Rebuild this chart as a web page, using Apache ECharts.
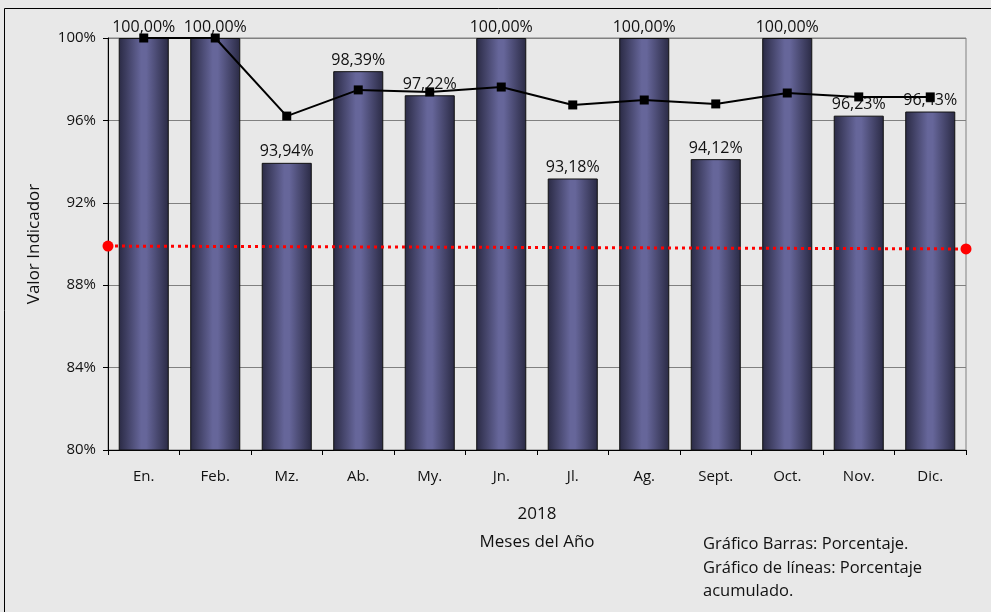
<!DOCTYPE html>
<html><head><meta charset="utf-8">
<script src="https://cdn.jsdelivr.net/npm/echarts@6/dist/echarts.min.js"></script>
<style>html,body{margin:0;padding:0;background:#e8e8e8}#c{width:991px;height:612px}</style>
</head><body><div id="c"></div>
<script>
const months = ['En.','Feb.','Mz.','Ab.','My.','Jn.','Jl.','Ag.','Sept.','Oct.','Nov.','Dic.'];
const barValues = [100, 100, 93.94, 98.39, 97.22, 100, 93.18, 100, 94.12, 100, 96.23, 96.43];
const cumulative = [100, 100, 96.21, 97.48, 97.38, 97.62, 96.75, 96.99, 96.80, 97.33, 97.14, 97.14];
const targetLine = [[0, 89.9], [1, 89.76]];
const yTicks = {min: 80, max: 100, interval: 4};
const notes = ['Gráfico Barras: Porcentaje.', 'Gráfico de líneas: Porcentaje', 'acumulado.'];

const FONT = '"Open Sans", sans-serif';
const chart = echarts.init(document.getElementById('c'));
chart.setOption({
  backgroundColor: '#e8e8e8',
  textStyle: {fontFamily: FONT},
  animation: false,
  graphic: [
    {type: 'rect', shape: {x: 4.5, y: 8.5, width: 1000, height: 700}, style: {fill: 'none', stroke: '#000', lineWidth: 1}, z: -1},
    {type: 'text', left: 703, top: 533, style: {text: notes.join('\n'), font: '16.5px ' + FONT, fill: '#111', lineHeight: 23.5}}
  ],
  grid: {left: 108, right: 25, top: 38, bottom: 162, show: true, borderColor: '#808080', borderWidth: 1, backgroundColor: 'transparent'},
  xAxis: [
    {type: 'category', data: months, axisLine: {lineStyle: {color: '#000'}},
     axisTick: {show: true, length: 5, lineStyle: {color: '#000'}},
     axisLabel: {color: '#111', fontSize: 15, margin: 19, fontFamily: FONT},
     name: '2018\nMeses del Año', nameLocation: 'middle', nameGap: 50,
     nameTextStyle: {color: '#111', fontSize: 17, lineHeight: 28, fontFamily: FONT}},
    {type: 'value', min: 0, max: 1, show: false, position: 'top'}
  ],
  yAxis: {type: 'value', min: yTicks.min, max: yTicks.max, interval: yTicks.interval,
    axisLine: {show: true, lineStyle: {color: '#000'}},
    axisTick: {show: true, length: 5, lineStyle: {color: '#000'}},
    axisLabel: {formatter: '{value}%', color: '#111', fontSize: 15, margin: 12, fontFamily: FONT},
    splitLine: {lineStyle: {color: '#808080', width: 1}},
    name: 'Valor Indicador', nameLocation: 'middle', nameGap: 65,
    nameTextStyle: {color: '#111', fontSize: 17, fontFamily: FONT}},
  series: [
    {type: 'bar', data: barValues, barWidth: '70%',
     itemStyle: {borderColor: '#111', borderWidth: 1,
       color: new echarts.graphic.LinearGradient(0, 0, 1, 0, [
         {offset: 0, color: '#2a2a44'}, {offset: 0.45, color: '#66669a'}, {offset: 0.55, color: '#66669a'}, {offset: 1, color: '#2a2a44'}])},
     label: {show: true, position: 'top', distance: 3, color: '#111', fontSize: 16, fontFamily: FONT,
       formatter: p => p.value.toFixed(2).replace('.', ',') + '%'}},
    {type: 'line', data: cumulative, symbol: 'rect', symbolSize: 9, lineStyle: {color: '#000', width: 2},
     itemStyle: {color: '#000'}, z: 5},
    {type: 'line', xAxisIndex: 1, data: targetLine, symbol: 'circle', symbolSize: 11,
     lineStyle: {color: '#ff0000', width: 3, type: [3, 4]}, itemStyle: {color: '#ff0000'}, z: 6}
  ]
});
</script></body></html>
